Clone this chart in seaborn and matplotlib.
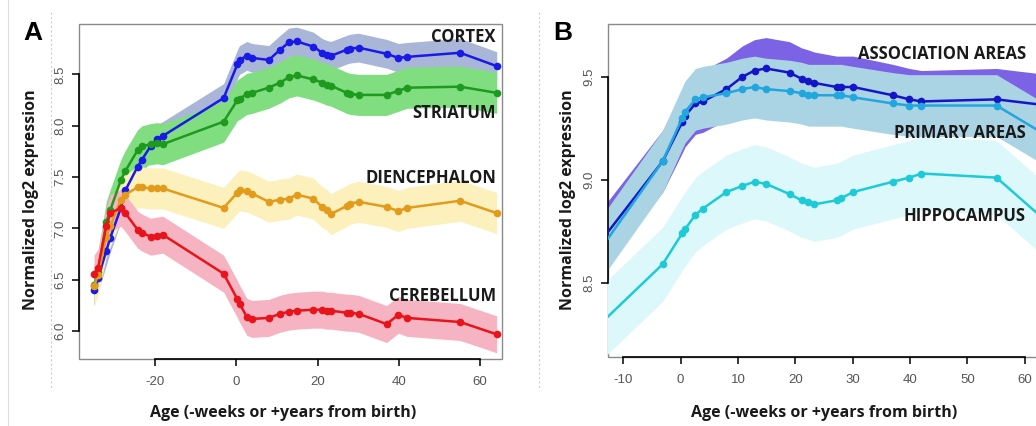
import matplotlib
matplotlib.use("Agg")
import matplotlib.pyplot as plt
import seaborn as sns
import pandas as pd
from matplotlib.lines import Line2D
from matplotlib.patches import Rectangle

sns.set_style("white")
plt.rcParams['font.family'] = ['Liberation Sans', 'DejaVu Sans']
plt.rcParams['axes.unicode_minus'] = False

# Panel A: brain regions
ages_a = [-35, -34, -32, -31, -28.4, -27.3, -24.3, -23.2, -21.1, -19.5, -18.1, -3.1,
          0.3, 0.8, 2.6, 3.9, 8, 10.8, 12.9, 14.9, 19, 21.1, 22.3, 23.3, 27.2, 28,
          30.1, 37, 39.9, 42, 55.1, 64.1]
cortex = [6.40, 6.52, 6.78, 6.91, 7.20, 7.37, 7.60, 7.67, 7.80, 7.87, 7.90, 8.27,
          8.60, 8.64, 8.68, 8.66, 8.64, 8.74, 8.81, 8.82, 8.77, 8.71, 8.69, 8.68,
          8.74, 8.75, 8.76, 8.70, 8.66, 8.67, 8.71, 8.58]
striatum = [6.45, 6.58, 7.06, 7.18, 7.47, 7.56, 7.76, 7.80, 7.82, 7.83, 7.82, 8.04,
            8.25, 8.26, 8.31, 8.32, 8.37, 8.42, 8.47, 8.49, 8.45, 8.42, 8.40, 8.39,
            8.32, 8.31, 8.30, 8.30, 8.34, 8.37, 8.38, 8.32]
diencephalon = [6.44, 6.55, 6.92, 7.02, 7.28, 7.33, 7.40, 7.40, 7.39, 7.39, 7.39, 7.20,
                7.35, 7.37, 7.36, 7.34, 7.26, 7.28, 7.29, 7.33, 7.29, 7.21, 7.18, 7.14,
                7.22, 7.24, 7.26, 7.21, 7.17, 7.20, 7.27, 7.15]
cerebellum = [6.56, 6.62, 7.02, 7.15, 7.20, 7.15, 6.99, 6.96, 6.92, 6.93, 6.94, 6.56,
              6.31, 6.27, 6.14, 6.12, 6.13, 6.17, 6.19, 6.20, 6.21, 6.21, 6.20, 6.20,
              6.18, 6.18, 6.17, 6.07, 6.16, 6.13, 6.09, 5.97]
names_a = ["CORTEX", "STRIATUM", "DIENCEPHALON", "CEREBELLUM"]
se_a = [0.14, 0.20, 0.20, 0.18]
label_y_a = [8.86, 8.12, 7.49, 6.34]

# Panel B: neocortical areas
ages_b = [-18.1, -3.1, 0.3, 0.8, 2.6, 3.9, 8, 10.8, 12.9, 14.9, 19, 21.1, 22.3, 23.3,
          27.2, 28, 30.1, 37, 39.9, 42, 55.1, 64.1]
association = [8.55, 9.09, 9.28, 9.31, 9.37, 9.38, 9.44, 9.50, 9.53, 9.54, 9.52, 9.49,
               9.48, 9.47, 9.45, 9.45, 9.45, 9.41, 9.39, 9.38, 9.39, 9.36]
primary = [8.50, 9.09, 9.30, 9.33, 9.39, 9.40, 9.42, 9.44, 9.45, 9.44, 9.43, 9.42,
           9.41, 9.41, 9.41, 9.41, 9.40, 9.37, 9.36, 9.36, 9.36, 9.21]
hippocampus = [8.19, 8.59, 8.74, 8.76, 8.83, 8.86, 8.94, 8.97, 8.99, 8.98, 8.93, 8.90,
               8.89, 8.88, 8.90, 8.91, 8.94, 8.99, 9.01, 9.03, 9.01, 8.79]
names_b = ["ASSOCIATION AREAS", "PRIMARY AREAS", "HIPPOCAMPUS"]
se_b = [0.15, 0.15, 0.18]
label_y_b = [9.61, 9.225, 8.824]

line_cols_a = ["#1a1ae6", "#1e9a1e", "#e39b1b", "#e8131b"]
band_cols_a = ["#aab6d8", "#80de80", "#fcf1bd", "#f6b4c3"]
line_cols_b = ["#1515c8", "#22a6de", "#1ccbd6"]
band_cols_b = ["#7c62e4", "#aad3e4", "#ddf8fa"]

BOLD = ['Open Sans', 'DejaVu Sans']


def panel(ax, ages, series, names, se, line_cols, band_cols, label_x, label_y):
    df = pd.DataFrame({"age": ages})
    for name, vals in zip(names, series):
        df[name] = vals
    for name, s, bc in zip(names, se, band_cols):
        ax.fill_between(df["age"], df[name] - s, df[name] + s, color=bc, lw=0, zorder=1)
    for name, lc in zip(names, line_cols):
        sns.lineplot(data=df, x="age", y=name, ax=ax, color=lc, marker="o",
                     markersize=5.5, markeredgewidth=0, linewidth=1.8, zorder=3,
                     sort=False, errorbar=None)
    for name, ly in zip(names, label_y):
        ax.text(label_x, ly, name, ha="right", va="center", fontsize=12,
                fontweight="bold", color="#1a1a1a", family=BOLD, zorder=5)


def style_axes(ax, xticks, yticks, xlim, ylim):
    ax.set_xlim(*xlim)
    ax.set_ylim(*ylim)
    ax.set_xticks(xticks)
    ax.set_yticks(yticks)
    ax.set_yticklabels([f"{v:.1f}" for v in yticks])
    for side in ["top", "right"]:
        ax.spines[side].set_visible(False)
    for side in ["left", "bottom"]:
        ax.spines[side].set_color("black")
        ax.spines[side].set_linewidth(1.2)
    ax.spines["bottom"].set_bounds(xticks[0], xticks[-1])
    ax.spines["left"].set_bounds(yticks[0], yticks[-1])
    ax.add_patch(Rectangle((0, 0), 1, 1, transform=ax.transAxes, fill=False,
                           ec="#8a8a8a", lw=1.0, zorder=0.5, clip_on=False))
    ax.tick_params(axis="both", direction="out", length=5, width=1.1, color="black",
                   labelsize=9.5, labelcolor="#555555", left=True, bottom=True)
    ax.tick_params(axis="y", labelrotation=90, pad=4)
    ax.tick_params(axis="x", pad=7)
    for t in ax.get_yticklabels():
        t.set_va("center")
    ax.set_xlabel("Age (-weeks or +years from birth)", fontsize=11.5,
                  fontweight="bold", color="#1a1a1a", family=BOLD)
    ax.set_ylabel("Normalized log2 expression", fontsize=11.5,
                  fontweight="bold", color="#1a1a1a", family=BOLD)
    ax.grid(False)


fig = plt.figure(figsize=(10.36, 4.26), dpi=100)
fig.patch.set_facecolor("white")

ax_a = fig.add_axes([79 / 1036, 1 - 359 / 426, 423 / 1036, 335 / 426])
panel(ax_a, ages_a, [cortex, striatum, diencephalon, cerebellum], names_a, se_a,
      line_cols_a, band_cols_a, 63.9, label_y_a)
style_axes(ax_a, [-20, 0, 20, 40, 60], [6.0, 6.5, 7.0, 7.5, 8.0, 8.5],
           (-38.7, 65.4), (5.73, 8.99))
ax_a.xaxis.set_label_coords(0.482, -0.161)
ax_a.xaxis.label.set_va("center")
ax_a.yaxis.set_label_coords(-0.1135, 0.475)
ax_a.yaxis.label.set_va("center")

ax_b = fig.add_axes([607.7 / 1036, 1 - 357 / 426, 451.4 / 1036, 333 / 426])
panel(ax_b, ages_b, [association, primary, hippocampus], names_b, se_b,
      line_cols_b, band_cols_b, 60.2, label_y_b)
style_axes(ax_b, [-10, 0, 10, 20, 30, 40, 50, 60], [8.5, 9.0, 9.5],
           (-12.7, 66), (8.139, 9.756))
ax_b.xaxis.set_label_coords(0.479, -0.168)
ax_b.xaxis.label.set_va("center")
ax_b.yaxis.set_label_coords(-0.088, 0.471)
ax_b.yaxis.label.set_va("center")

# panel letters and separators
fig.text(33 / 1036, 1 - 33 / 426, "A", fontsize=19, fontweight="bold", ha="center",
         va="center", color="black")
fig.text(563 / 1036, 1 - 33 / 426, "B", fontsize=19, fontweight="bold", ha="center",
         va="center", color="black")
for xp in [51, 539]:
    fig.add_artist(Line2D([xp / 1036, xp / 1036], [1 - 12 / 426, 1 - 390 / 426],
                          ls=(0, (2, 2)), color="#cfcfcf", lw=0.8))
fig.add_artist(Line2D([8 / 1036, 8 / 1036], [0, 1], color="#dddddd", lw=0.8))

fig.savefig("out.png", dpi=100)
